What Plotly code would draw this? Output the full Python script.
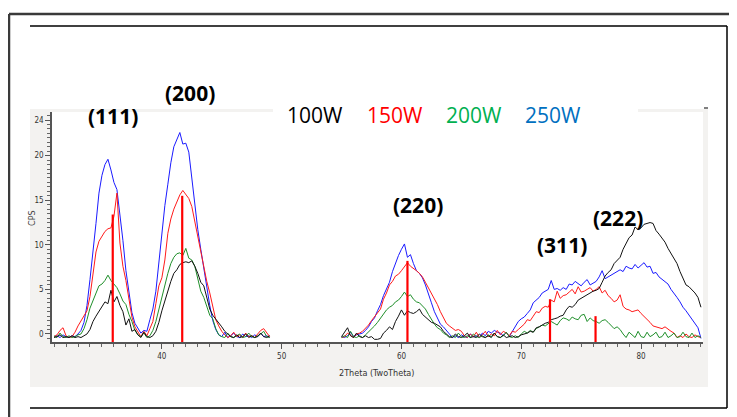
import plotly.graph_objects as go

# ---------------- data ----------------
two_theta_a = [round(31.0 + 0.25 * i, 2) for i in range(73)]    # 31.00 .. 49.00
two_theta_b = [round(55.0 + 0.25 * i, 2) for i in range(121)]   # 55.00 .. 85.00

cps_100w_a = [
    -0.4, -0.3, -0.1, -0.4, -0.3, -0.4, -0.2, -0.4,
    -0.3, -0.4, -0.2, 0.0, 0.5, 1.4, 2.0, 2.5,
    3.1, 3.6, 3.4, 4.9, 3.6, 4.2, 3.2, 2.5,
    1.0, 1.7, 0.3, 0.5, -0.1, -0.4, 0.2, -0.3,
    -0.4, -0.2, 0.3, 1.3, 2.6, 3.8, 5.0, 5.9,
    6.8, 7.2, 7.8, 8.0, 8.1, 8.0, 8.2, 7.6,
    6.8, 5.8, 5.4, 4.1, 2.8, 2.1, 1.7, 1.2,
    0.8, 0.3, 0.0, -0.3, -0.4, -0.1, -0.4, -0.3,
    0.0, -0.4, -0.2, -0.4, -0.3, 0.1, -0.3, -0.4,
    -0.2]
cps_100w_b = [
    -0.3, 0.2, 0.7, -0.2, -0.4, 0.1, -0.3, -0.4,
    -0.2, -0.4, -0.3, -0.6, -0.6, -0.5, 0.1, 0.4,
    0.8, 0.5, 1.4, 2.0, 2.7, 2.1, 2.6, 2.4,
    2.3, 2.5, 2.8, 2.2, 1.9, 1.6, 1.3, 1.2,
    1.0, 0.8, 0.3, 0.0, -0.3, -0.4, 0.0, -0.3,
    -0.4, -0.2, 0.1, -0.4, -0.3, -0.4, 0.0, -0.3,
    -0.4, -0.2, -0.4, 0.1, -0.3, -0.4, -0.1, -0.4,
    -0.3, -0.2, -0.4, -0.3, -0.1, 0.0, 0.1, 0.3,
    0.2, 0.7, 0.8, 1.0, 1.2, 1.3, 1.6, 1.7,
    1.8, 2.0, 2.1, 2.7, 3.1, 3.0, 3.3, 3.8,
    4.0, 4.2, 4.4, 4.6, 4.8, 4.9, 5.1, 5.8,
    6.5, 6.9, 7.2, 7.9, 8.3, 8.6, 9.5, 10.2,
    10.8, 11.1, 12.0, 11.7, 11.9, 12.3, 12.4, 12.5,
    12.4, 11.6, 11.2, 10.8, 10.3, 9.6, 9.0, 8.4,
    7.9, 7.0, 6.2, 5.5, 5.3, 5.0, 4.6, 4.1,
    3.0]

cps_150w_a = [
    -0.3, -0.1, 0.4, 0.7, -0.2, -0.4, -0.3, 0.2,
    0.9, 1.5, 2.0, 2.6, 4.2, 6.6, 9.2, 10.4,
    10.9, 11.5, 11.8, 11.9, 13.2, 15.8, 10.2, 7.6,
    6.0, 3.8, 1.9, 0.8, 0.2, -0.3, 0.3, -0.2,
    0.6, 1.4, 3.4, 5.4, 6.3, 8.3, 11.3, 12.9,
    14.0, 14.9, 15.6, 16.1, 15.6, 15.2, 14.3, 12.6,
    11.1, 9.3, 7.3, 5.9, 4.6, 3.0, 1.6, 0.9,
    0.3, -0.1, -0.4, -0.2, 0.2, -0.3, -0.1, -0.4,
    0.1, -0.3, -0.2, -0.4, 0.0, 0.4, 0.6, 0.2,
    -0.3]
cps_150w_b = [
    -0.4, -0.3, 0.1, -0.2, -0.4, 0.0, 0.1, 0.3,
    0.6, 1.0, 1.5, 1.9, 2.4, 2.8, 3.9, 4.6,
    5.5, 5.9, 6.5, 6.7, 7.1, 7.6, 8.0, 7.6,
    7.4, 7.1, 6.8, 6.4, 5.8, 5.2, 4.6, 3.9,
    3.3, 2.5, 1.9, 1.2, 0.9, 0.6, 0.4, 0.5,
    0.3, -0.2, -0.4, 0.0, -0.3, 0.2, -0.4, -0.1,
    0.3, -0.3, 0.0, -0.2, 0.4, -0.1, 0.3, 0.1,
    -0.2, 0.3, 0.2, 0.5, 0.8, 1.1, 1.6, 1.5,
    2.0, 2.5, 2.4, 2.9, 3.1, 3.0, 3.8, 3.6,
    4.8, 4.0, 4.3, 4.4, 4.7, 5.0, 4.5, 5.3,
    4.7, 4.8, 5.0, 5.2, 4.8, 5.0, 5.3, 4.6,
    4.9, 4.3, 4.0, 3.6, 3.8, 4.4, 3.1, 2.8,
    2.7, 2.5, 2.6, 2.7, 2.3, 2.0, 1.6, 1.3,
    0.9, 0.8, 0.7, 0.6, 0.8, 0.5, 0.3, 0.1,
    -0.4, -0.2, -0.4, 0.0, -0.3, -0.4, -0.1, -0.3,
    -0.4]

cps_200w_a = [
    -0.2, -0.4, 0.1, -0.3, -0.4, -0.2, -0.4, -0.3,
    -0.1, 0.0, 0.6, 1.6, 2.9, 3.8, 4.6, 5.4,
    5.6, 6.0, 6.6, 6.0, 5.6, 5.2, 4.5, 3.7,
    3.3, 2.2, 1.4, 0.4, -0.1, -0.3, 0.1, -0.4,
    -0.2, 0.4, 1.4, 2.8, 4.0, 5.3, 6.8, 7.9,
    8.6, 9.0, 9.1, 8.8, 9.6, 8.5, 8.3, 7.6,
    6.1, 4.8, 4.1, 3.0, 2.1, 1.7, 0.6, -0.1,
    -0.3, -0.4, 0.1, -0.3, -0.4, -0.2, 0.0, -0.4,
    -0.3, 0.1, -0.3, -0.4, -0.2, 0.0, 0.3, -0.3,
    -0.4]
cps_200w_b = [
    -0.4, -0.2, -0.4, 0.3, -0.3, -0.4, -0.2, -0.4,
    -0.1, 0.2, 0.5, 0.9, 1.3, 1.8, 2.3, 2.7,
    3.0, 3.2, 3.6, 3.8, 4.2, 4.7, 4.2, 4.4,
    3.9, 3.6, 3.5, 3.1, 2.8, 2.2, 1.6, 1.1,
    0.7, 0.5, 0.1, -0.1, -0.4, -0.2, -0.4, 0.1,
    -0.3, -0.4, -0.2, -0.4, 0.0, -0.3, -0.4, -0.2,
    -0.4, -0.1, -0.3, 0.1, -0.3, -0.4, -0.2, 0.2,
    -0.3, -0.4, -0.2, -0.4, 0.0, 0.3, 0.1, 0.4,
    0.2, 0.6, 0.8, 1.0, 0.9, 1.2, 1.4, 1.2,
    1.0, 1.5, 1.8, 1.7, 1.5, 1.9, 1.7, 1.6,
    2.1, 2.2, 1.4, 1.8, 1.5, 1.4, 1.2, 1.5,
    1.6, 1.3, 1.0, 0.6, 0.8, 0.5, 0.0, -0.4,
    0.2, -0.1, -0.4, 0.3, -0.3, -0.4, 0.2, -0.3,
    -0.1, 0.2, -0.4, -0.3, 0.2, -0.4, -0.2, 0.1,
    -0.4, -0.3, 0.2, -0.3, -0.4, 0.1, -0.4, -0.2,
    -0.4]

cps_250w_a = [
    -0.3, -0.2, -0.4, -0.1, -0.3, -0.4, -0.2, -0.3,
    0.0, 0.4, 1.3, 3.2, 6.1, 9.0, 12.4, 15.8,
    17.8, 19.0, 19.6, 18.4, 17.0, 16.2, 13.6, 10.5,
    7.1, 4.6, 2.4, 1.2, 0.6, 0.1, 0.4, 0.3,
    1.6, 2.8, 4.8, 7.9, 11.6, 14.4, 16.8, 19.2,
    21.0, 21.8, 22.6, 21.3, 21.4, 20.4, 17.4, 14.3,
    11.7, 9.5, 7.3, 5.6, 3.2, 1.5, 0.5, -0.1,
    -0.3, 0.2, -0.4, -0.2, 0.1, -0.3, -0.4, 0.0,
    -0.3, -0.2, -0.4, -0.1, -0.3, 0.1, -0.3, -0.2,
    -0.4]
cps_250w_b = [
    -0.3, -0.4, -0.2, 0.2, -0.3, -0.1, 0.0, 0.1,
    0.4, 0.8, 1.4, 1.8, 2.6, 3.3, 4.3, 5.0,
    5.8, 7.0, 8.0, 8.8, 9.5, 10.1, 8.6, 8.9,
    7.9, 7.1, 6.8, 6.3, 5.5, 4.4, 3.5, 2.5,
    1.7, 1.1, 0.8, 0.4, 0.0, -0.4, -0.2, -0.4,
    -0.1, -0.3, -0.4, 0.0, -0.3, -0.2, -0.4, 0.1,
    -0.2, 0.3, 0.1, 0.4, 0.2, 0.1, -0.2, 0.2,
    -0.3, 0.3, 0.8, 1.4, 1.7, 1.9, 2.3, 2.7,
    3.5, 3.8, 4.1, 4.6, 4.8, 5.0, 6.0, 5.0,
    5.1, 4.9, 5.2, 5.0, 5.6, 5.5, 5.9, 5.6,
    5.4, 5.8, 6.1, 5.5, 5.7, 5.9, 6.4, 7.1,
    6.2, 6.4, 6.6, 6.8, 7.0, 7.2, 7.0, 7.6,
    7.4, 7.3, 7.8, 7.4, 7.7, 8.0, 7.5, 7.6,
    6.8, 6.9, 6.4, 6.1, 5.9, 5.6, 5.0, 4.6,
    4.1, 3.6, 3.0, 2.6, 2.1, 1.6, 1.1, 0.7,
    -0.5]

ref_two_theta = [35.9, 41.7, 60.5, 72.4, 76.2]
ref_cps = [13.4, 15.5, 8.2, 3.9, 2.0]

series_names = ["100W", "150W", "200W", "250W"]
hkl_labels = ["(111)", "(200)", "(220)", "(311)", "(222)"]
x_tick_vals = [40, 50, 60, 70, 80]
y_tick_vals = [0, 5, 10, 15, 20, 24]

for s in (cps_100w_a, cps_150w_a, cps_200w_a, cps_250w_a):
    assert len(s) == len(two_theta_a), len(s)
for s in (cps_100w_b, cps_150w_b, cps_200w_b, cps_250w_b):
    assert len(s) == len(two_theta_b), len(s)

# ---------------- layout helpers ----------------
OFF = 8                      # page body margin
W, H = 737 - OFF, 417 - OFF
PLOT_L, PLOT_R, PLOT_T, PLOT_B = 52, 703, 112, 342   # page pixels
ML, MT = PLOT_L - OFF, PLOT_T - OFF
MR, MB = W - (PLOT_R - OFF), H - (PLOT_B - OFF)
PW, PH = PLOT_R - PLOT_L, PLOT_B - PLOT_T
X_RANGE = [30.83, 85.17]
Y_RANGE = [-0.9, 24.9]


def fx(p):
    return (p - PLOT_L) / PW


def fy(p):
    return (PLOT_B - p) / PH


colors = {"100W": "#111111", "150W": "#ff1a1a", "200W": "#1f8f2a", "250W": "#1a1aff"}
legend_colors = {"100W": "#000000", "150W": "#ff0000", "200W": "#00b050", "250W": "#0070c0"}

xs = two_theta_a + [None] + two_theta_b
data_map = {
    "100W": cps_100w_a + [None] + cps_100w_b,
    "150W": cps_150w_a + [None] + cps_150w_b,
    "200W": cps_200w_a + [None] + cps_200w_b,
    "250W": cps_250w_a + [None] + cps_250w_b,
}

fig = go.Figure()
for name in ["250W", "150W", "200W", "100W"]:
    fig.add_trace(go.Scatter(x=xs, y=data_map[name], mode="lines", name=name,
                             line=dict(color=colors[name], width=1),
                             connectgaps=False, hoverinfo="skip"))

rx, ry = [], []
for p, h in zip(ref_two_theta, ref_cps):
    rx += [p, p, None]
    ry += [Y_RANGE[0], h, None]
fig.add_trace(go.Scatter(x=rx, y=ry, mode="lines", line=dict(color="#ff0000", width=2.2),
                         hoverinfo="skip", showlegend=False))

shapes = [
    dict(type="rect", xref="paper", yref="paper", x0=fx(30), x1=fx(708), y0=fy(387), y1=fy(109),
         fillcolor="#f3f2f0", line=dict(width=0), layer="below"),
    dict(type="rect", xref="paper", yref="paper", x0=0, x1=1, y0=0, y1=1,
         fillcolor="#ffffff", line=dict(width=0), layer="below"),
    dict(type="rect", xref="paper", yref="paper", x0=fx(273), x1=fx(638), y0=fy(130), y1=fy(100),
         fillcolor="#ffffff", line=dict(width=0), layer="below"),
    # outer frame
    dict(type="line", xref="paper", yref="paper", x0=fx(9), x1=fx(740), y0=fy(14), y1=fy(14),
         line=dict(color="#3a3a3a", width=2.5)),
    dict(type="line", xref="paper", yref="paper", x0=fx(9), x1=fx(9), y0=fy(14), y1=fy(420),
         line=dict(color="#3a3a3a", width=2.5)),
    # inner frame
    dict(type="line", xref="paper", yref="paper", x0=fx(30), x1=fx(727), y0=fy(26), y1=fy(26),
         line=dict(color="#000000", width=1.5)),
    dict(type="line", xref="paper", yref="paper", x0=fx(727), x1=fx(727), y0=fy(26), y1=fy(408),
         line=dict(color="#000000", width=1.5)),
    dict(type="line", xref="paper", yref="paper", x0=fx(30), x1=fx(727), y0=fy(408), y1=fy(408),
         line=dict(color="#000000", width=1.5)),
    dict(type="line", xref="paper", yref="paper", x0=fx(704), x1=fx(708), y0=fy(108), y1=fy(108),
         line=dict(color="#000000", width=1)),
]

annotations = []
hkl_pos = [(113, 116), (190, 93), (418, 205), (562, 245), (618, 218)]
for txt, (cx, cy) in zip(hkl_labels, hkl_pos):
    annotations.append(dict(text="<b>%s</b>" % txt, xref="paper", yref="paper", x=fx(cx), y=fy(cy),
                            xanchor="center", yanchor="middle", showarrow=False,
                            font=dict(family="Open Sans", size=21, color="#000000")))
leg_pos = [314.5, 394.5, 473.5, 553]
for name, cx in zip(series_names, leg_pos):
    annotations.append(dict(text=name, xref="paper", yref="paper", x=fx(cx), y=fy(115),
                            xanchor="center", yanchor="middle", showarrow=False,
                            font=dict(family="Open Sans", size=21, color=legend_colors[name])))
annotations.append(dict(text="2Theta (TwoTheta)", xref="paper", yref="paper", x=fx(376), y=fy(373),
                        xanchor="center", yanchor="middle", showarrow=False,
                        font=dict(family="DejaVu Sans Condensed, Liberation Sans, sans-serif",
                                  size=9, color="#333333")))
annotations.append(dict(text="CPS", xref="paper", yref="paper", x=fx(32), y=fy(218),
                        xanchor="center", yanchor="middle", showarrow=False, textangle=-90,
                        font=dict(family="DejaVu Sans Condensed, Liberation Sans, sans-serif",
                                  size=9, color="#444444")))

tick_font = dict(family="DejaVu Sans Condensed, Liberation Sans, sans-serif", size=8, color="#333333")

fig.update_layout(
    width=W, height=H,
    margin=dict(l=ML, r=MR, t=MT, b=MB, pad=0),
    paper_bgcolor="#ffffff", plot_bgcolor="#ffffff",
    showlegend=False,
    shapes=shapes, annotations=annotations,
    xaxis=dict(range=X_RANGE, tickmode="array", tickvals=x_tick_vals, ticks="outside",
               ticklen=5, tickwidth=1, tickcolor="#555555", showline=True, linecolor="#555555",
               linewidth=2, showgrid=False, zeroline=False, tickfont=tick_font,
               minor=dict(tickmode="linear", tick0=0, dtick=1, ticks="outside", ticklen=3,
                          tickcolor="#666666", showgrid=False)),
    yaxis=dict(range=Y_RANGE, tickmode="array", tickvals=y_tick_vals, ticks="outside",
               ticklen=5, tickwidth=1, tickcolor="#555555", showline=True, linecolor="#555555",
               linewidth=1.5, showgrid=False, zeroline=False, tickfont=tick_font,
               minor=dict(tickmode="linear", tick0=0, dtick=0.5, ticks="outside", ticklen=3,
                          tickcolor="#666666", showgrid=False)),
)

fig.write_html("out.html")
